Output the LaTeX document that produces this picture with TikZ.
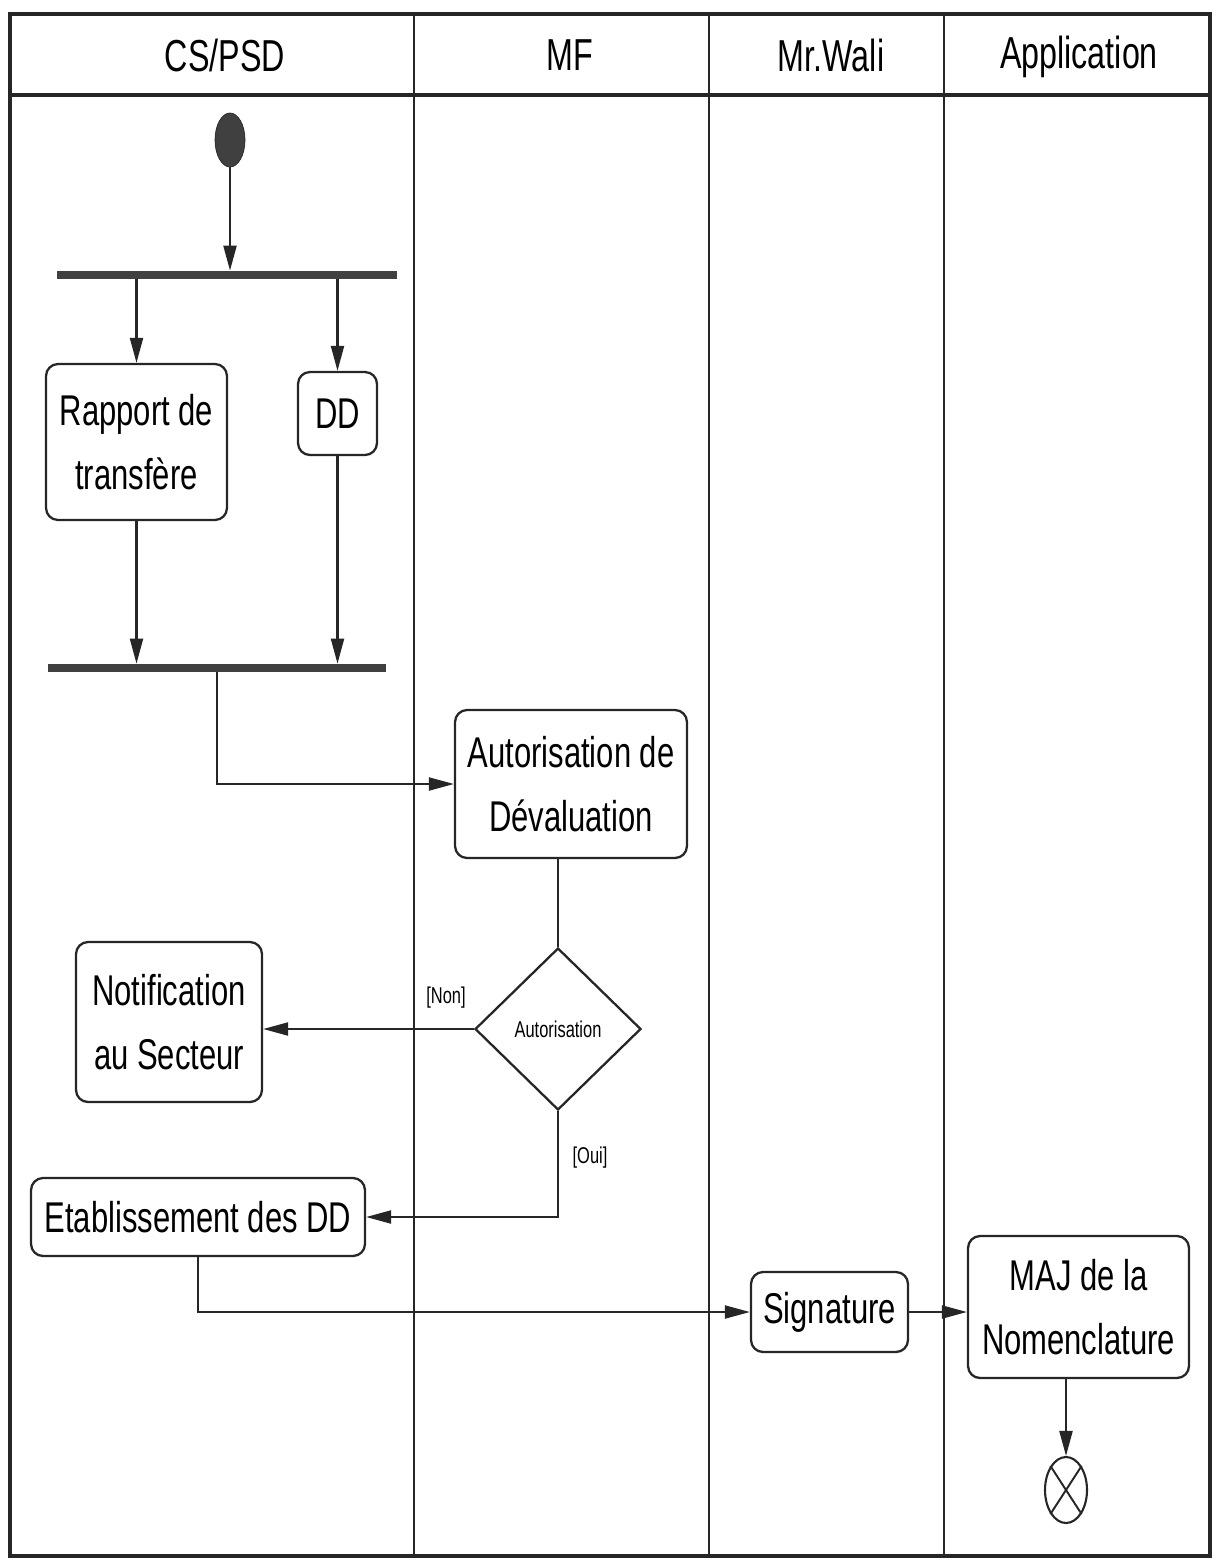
\documentclass[tikz,border=0pt]{standalone}
\usepackage{fontspec}
\setmainfont{Liberation Sans}[FakeStretch=0.72]
\usetikzlibrary{shapes.geometric,arrows.meta}
\begin{document}
\begin{tikzpicture}[x=0.02cm,y=-0.02cm,
  lane/.style={line width=1pt,draw=black!85},
  frameline/.style={line width=1.8pt,draw=black!85},
  act/.style={draw=black!85,line width=1.3pt,rounded corners=0.24cm,align=center,
    font=\fontsize{24.5}{36}\selectfont,inner sep=0pt},
  hdr/.style={font=\fontsize{25.5}{30}\selectfont},
  bar/.style={fill=black!75,draw=none,inner sep=0pt,minimum height=0.16cm},
  arr/.style={line width=1.2pt,draw=black!85,-{Triangle[length=0.5cm,width=0.26cm]}},
  flow/.style={line width=1.2pt,draw=black!85},
  guard/.style={font=\fontsize{13}{15}\selectfont}
]
\useasboundingbox (0,0) rectangle (1215,1558);
% frame and lanes
\draw[frameline] (10,14) rectangle (1210,1556);
\draw[frameline] (10,95) -- (1210,95);
\draw[lane] (414,14) -- (414,1556);
\draw[lane] (709,14) -- (709,1556);
\draw[lane] (944,14) -- (944,1556);
% headers
\node[hdr] (h1) at (225,55) {CS/PSD};
\node[hdr] (h2) at (570,55) {MF};
\node[hdr] (h3) at (831,55) {Mr.Wali};
\node[hdr] (h4) at (1079,57) {Application};
% nodes
\node[ellipse,fill=black!75,draw=black!85,minimum width=0.6cm,minimum height=1.08cm,inner sep=0pt] (start) at (230,140) {};
\node[bar,minimum width=6.8cm] (bar1) at (227,275) {};
\node[act,minimum width=3.62cm,minimum height=3.12cm] (rap) at (136.5,442) {Rapport de\\transfère};
\node[act,minimum width=1.58cm,minimum height=1.66cm] (dd) at (337.5,413.5) {DD};
\node[bar,minimum width=6.76cm] (bar2) at (217,668) {};
\node[act,minimum width=4.64cm,minimum height=2.96cm] (aut) at (571,784) {Autorisation de\\Dévaluation};
\node[diamond,draw=black!85,line width=1.3pt,minimum width=3.32cm,minimum height=3.24cm,inner sep=0pt,
  font=\fontsize{13}{15}\selectfont] (dia) at (558,1029) {Autorisation};
\node[act,minimum width=3.72cm,minimum height=3.2cm] (notif) at (169,1022) {Notification\\au Secteur};
\node[act,minimum width=6.68cm,minimum height=1.56cm] (etab) at (198,1217) {Etablissement des DD};
\node[act,minimum width=3.14cm,minimum height=1.6cm] (sig) at (829.5,1312) {Signature};
\node[act,minimum width=4.42cm,minimum height=2.84cm] (maj) at (1078.5,1307) {MAJ de la\\Nomenclature};
\node[ellipse,draw=black!85,line width=1.2pt,minimum width=0.84cm,minimum height=1.32cm,inner sep=0pt] (fin) at (1066,1490) {};
\draw[line width=1.1pt,draw=black!85] (fin.north west) -- (fin.south east);
\draw[line width=1.1pt,draw=black!85] (fin.north east) -- (fin.south west);
% connectors
\draw[arr] (start.south) -- (start.south |- bar1.north);
\draw[arr] (rap.north |- bar1.south) -- (rap.north);
\draw[arr] (dd.north |- bar1.south) -- (dd.north);
\draw[arr] (rap.south) -- (rap.south |- bar2.north);
\draw[arr] (dd.south) -- (dd.south |- bar2.north);
\draw[arr] (bar2.south) |- (aut.west);
\draw[flow] (dia.north |- aut.south) -- (dia.north);
\draw[arr] (dia.west) -- (dia.west -| notif.east);
\node[guard] (non) at (446,998) {[Non]};
\draw[arr] (dia.south) |- (etab.east);
\node[guard] (oui) at (590,1158) {[Oui]};
\draw[arr] (etab.south) |- (sig.west);
\draw[arr] (sig.east) -- (sig.east -| maj.west);
\draw[arr] (fin.north |- maj.south) -- (fin.north);
\end{tikzpicture}
\end{document}
